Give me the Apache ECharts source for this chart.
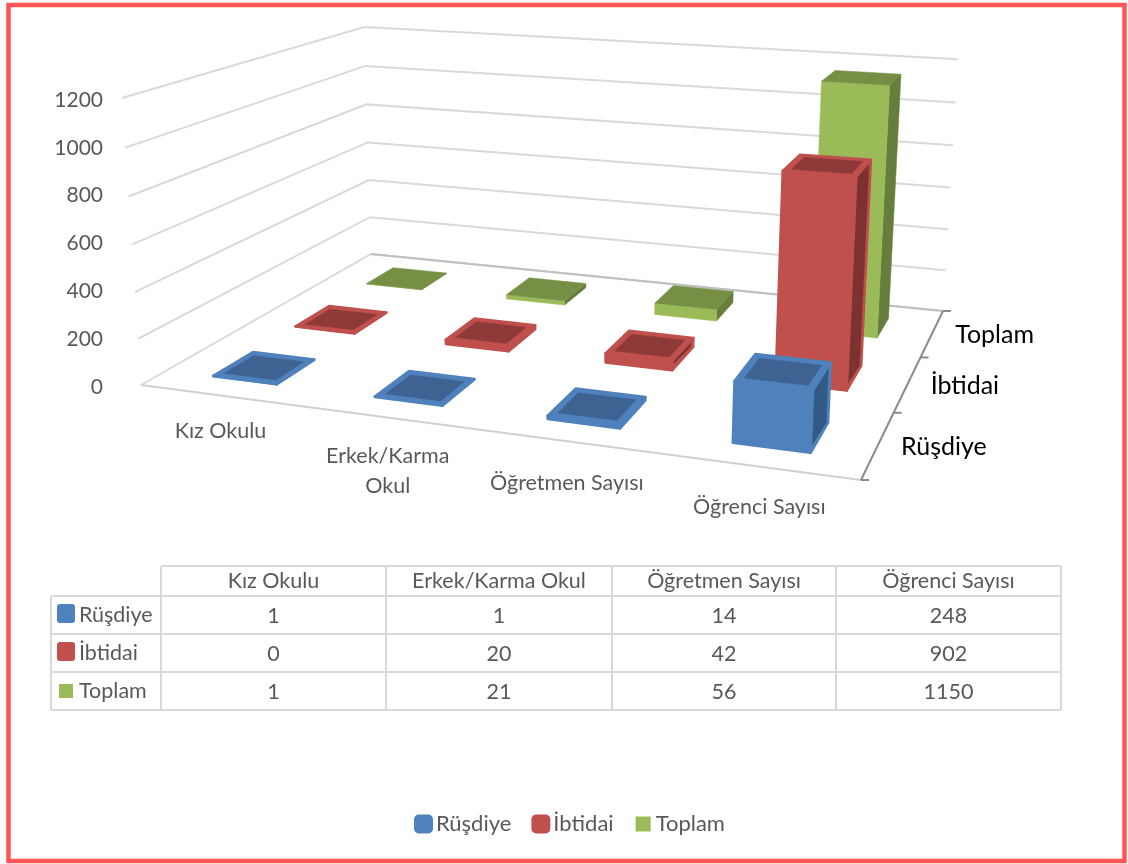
<!DOCTYPE html>
<html>
<head>
<meta charset="utf-8">
<style>
  html, body { margin: 0; padding: 0; background: #fff; }
  #chart { width: 1128px; height: 864px; }
</style>
<script src="https://cdn.jsdelivr.net/npm/echarts@6/dist/echarts.min.js"></script>
</head>
<body>
<div id="chart"></div>
<script>
const categories = ['Kız Okulu', 'Erkek/Karma Okul', 'Öğretmen Sayısı', 'Öğrenci Sayısı']
const rusdiye = [1, 1, 14, 248]
const ibtidai = [0, 20, 42, 902]
const toplam = [1, 21, 56, 1150]
const yTicks = [0, 200, 400, 600, 800, 1000, 1200]
const seriesNames = ['Rüşdiye', 'İbtidai', 'Toplam']

const FONT = 'Lato, "Noto Sans", sans-serif'
const TEXT = '#595959'
const GRID_TOP = 100
const GRID_H = 287

// perspective of the floor and walls, from the corners on the picture
const A = [141, 385], D = [861, 480], C = [943, 311], B = [371, 254]
const cam = (function () {
  const sx = A[0] - D[0] + C[0] - B[0]
  const sy = A[1] - D[1] + C[1] - B[1]
  const dx1 = D[0] - C[0], dx2 = B[0] - C[0]
  const dy1 = D[1] - C[1], dy2 = B[1] - C[1]
  const det = dx1 * dy2 - dx2 * dy1
  const g = (sx * dy2 - dx2 * sy) / det
  const h = (dx1 * sy - sx * dy1) / det
  const wC = 1 + g + h
  // top of the walls: (122,98) front left, (958,57) back right
  const pw = (122 - A[0] - (958 - C[0]) * wC) / (958 - 122)
  return {
    a: D[0] - A[0] + g * D[0], b: B[0] - A[0] + h * B[0], c: A[0],
    d: D[1] - A[1] + g * D[1], e: B[1] - A[1] + h * B[1], f: A[1],
    g, h, pw,
    px: 122 - A[0] + 122 * pw,
    py: 98 - A[1] + 98 * pw
  }
})()

function project(u, v, z) {
  const w = cam.g * u + cam.h * v + 1 + cam.pw * z
  return [
    (cam.a * u + cam.b * v + cam.c + cam.px * z) / w,
    (cam.d * u + cam.e * v + cam.f + cam.py * z) / w
  ]
}

function zOf(params, api, value) {
  const sys = params.coordSys
  return (sys.y + sys.height - api.coord([0, value])[1]) / sys.height
}

function line(points, color, width) {
  return {
    type: 'polyline',
    shape: { points },
    style: { stroke: color, lineWidth: width, fill: null },
    silent: true
  }
}

function poly(points, fill, stroke) {
  return {
    type: 'polygon',
    shape: { points },
    style: stroke
      ? { fill, stroke, lineWidth: 2.5, lineJoin: 'round' }
      : { fill, stroke: fill, lineWidth: 0.5 },
    silent: true
  }
}

function renderWall(params, api) {
  const z = zOf(params, api, api.value(1))
  const items = [line([project(0, 0, z), project(0, 1, z), project(1, 1, z)], '#d9d9d9', 2)]
  if (z === 0) {
    items.push(line([project(0, 1, 0), project(1, 1, 0)], '#bfbfbf', 2))
    items.push(line([project(0, 0, 0), project(1, 0, 0)], '#d0d0d0', 2))
    items.push(line([project(1, 0, 0), project(1, 1, 0)], '#8c8c8c', 2))
    for (let i = 0; i <= seriesNames.length; i++) {
      const p = project(1, i / seriesNames.length, 0)
      items.push(line([p, [p[0] + 8, p[1]]], '#8c8c8c', 2))
    }
  }
  return { type: 'group', children: items }
}

function barRenderer(depth, colors) {
  const BAR_U = 0.4
  const BAR_V = colors.bevel ? 0.46 : 0.43
  const IU = 0.009
  const IV = 0.02
  return function (params, api) {
    const sys = params.coordSys
    const center = (api.coord([api.value(0), 0])[0] - sys.x) / sys.width
    const band = api.size([1, 0])[0] / sys.width
    const u0 = center - band * BAR_U / 2
    const u1 = center + band * BAR_U / 2
    const v0 = (depth + 0.5 - BAR_V / 2) / seriesNames.length
    const v1 = (depth + 0.5 + BAR_V / 2) / seriesNames.length
    const z = Math.max(zOf(params, api, api.value(1)), 0.0015)
    const stroke = colors.bevel ? colors.main : null

    const right = [project(u1, v0, 0), project(u1, v1, 0), project(u1, v1, z), project(u1, v0, z)]
    const front = [project(u0, v0, 0), project(u1, v0, 0), project(u1, v0, z), project(u0, v0, z)]
    const top = [project(u0, v0, z), project(u1, v0, z), project(u1, v1, z), project(u0, v1, z)]
    const items = []

    if (colors.bevel) {
      items.push(poly(right, colors.main, stroke))
      if (z > 0.02) {
        const zb = 0.012
        items.push(poly([
          project(u1, v0 + 0.005, zb + 0.008), project(u1, v1 - IV, zb),
          project(u1, v1 - IV, z - 0.004), project(u1, v0 + 0.005, z - 0.004)
        ], colors.side))
      }
      items.push(poly(front, colors.main, stroke))
      items.push(poly(top, colors.main, stroke))
      items.push(poly([
        project(u0 + IU, v0 + IV, z), project(u1 - IU, v0 + IV, z),
        project(u1 - IU, v1 - IV, z), project(u0 + IU, v1 - IV, z)
      ], colors.top))
    } else {
      items.push(poly(right, colors.side))
      items.push(poly(front, colors.main))
      items.push(poly(top, colors.top))
    }
    return { type: 'group', children: items }
  }
}

function renderCategoryLabel(params, api) {
  const sys = params.coordSys
  const idx = api.value(0)
  const center = (api.coord([idx, 0])[0] - sys.x) / sys.width
  const p = project(center, 0, 0)
  return {
    type: 'text',
    silent: true,
    style: {
      text: categories[idx].replace('/Karma ', '/Karma\n'),
      x: p[0],
      y: p[1] + [36, 54, 42, 40][idx],
      fill: TEXT,
      font: '21.5px ' + FONT,
      align: 'center',
      verticalAlign: 'middle',
      lineHeight: 30
    }
  }
}

function renderDepthLabel(params, api) {
  const idx = api.value(1)
  const p = project(1, (idx + 0.5) / seriesNames.length, 0)
  return {
    type: 'text',
    silent: true,
    style: {
      text: seriesNames[idx],
      x: p[0] + 23,
      y: p[1] + 2,
      fill: '#000',
      font: '25px ' + FONT,
      align: 'left',
      verticalAlign: 'middle'
    }
  }
}

function buildTable() {
  const xs = [161, 386, 612, 836, 1061]
  const ys = [566, 596, 634, 672, 710]
  const left = 51
  const rows = [rusdiye, ibtidai, toplam]
  const swatch = [
    { x: 57, y: 604, width: 18, height: 19, r: 3, fill: '#4f81bd' },
    { x: 57, y: 642, width: 18, height: 19, r: 3, fill: '#c0504d' },
    { x: 59, y: 684, width: 14, height: 14, r: 0, fill: '#9bbb59' }
  ]
  const els = []
  const stroke = { stroke: '#d9d9d9', lineWidth: 2 }
  function seg(x1, y1, x2, y2) {
    els.push({ type: 'line', shape: { x1, y1, x2, y2 }, style: stroke, silent: true })
  }
  function label(text, x, y, align) {
    els.push({
      type: 'text', silent: true,
      style: { text, x, y, fill: TEXT, font: '21.5px ' + FONT, align, verticalAlign: 'middle' }
    })
  }
  seg(xs[0], ys[0], xs[4], ys[0])
  ys.slice(1).forEach(y => seg(left, y, xs[4], y))
  seg(left, ys[1], left, ys[4])
  xs.forEach(x => seg(x, ys[0], x, ys[4]))
  categories.forEach((c, i) => label(c, (xs[i] + xs[i + 1]) / 2, (ys[0] + ys[1]) / 2 + 0.5, 'center'))
  rows.forEach((row, r) => {
    const yc = (ys[r + 1] + ys[r + 2]) / 2
    const s = swatch[r]
    els.push({
      type: 'rect', silent: true,
      shape: { x: s.x, y: s.y, width: s.width, height: s.height, r: s.r },
      style: { fill: s.fill }
    })
    label(seriesNames[r], 79, yc, 'left')
    row.forEach((v, i) => label(String(v), (xs[i] + xs[i + 1]) / 2, yc + 1, 'center'))
  })
  els.push({
    type: 'rect', silent: true,
    shape: { x: 8.5, y: 5, width: 1116, height: 856 },
    style: { fill: null, stroke: '#ff5555', lineWidth: 4.5 }
  })
  return els
}

function barSeries(name, values, depth, colors) {
  return {
    name,
    type: 'custom',
    renderItem: barRenderer(depth, colors),
    data: values.map((v, i) => [i, v]),
    encode: { x: 0, y: 1 },
    itemStyle: { color: colors.main },
    silent: true
  }
}

const chart = echarts.init(document.getElementById('chart'))
chart.setOption({
  animation: false,
  backgroundColor: '#fff',
  textStyle: { fontFamily: FONT },
  grid: { left: 110, top: GRID_TOP, width: 800, height: GRID_H },
  xAxis: { type: 'category', data: categories, show: false },
  yAxis: {
    type: 'value',
    min: yTicks[0],
    max: yTicks[yTicks.length - 1],
    interval: 200,
    axisLine: { show: false },
    axisTick: { show: false },
    splitLine: { show: false },
    axisLabel: {
      color: TEXT,
      fontSize: 21,
      margin: 7,
      fontFamily: FONT,
      formatter: v => String(v)
    }
  },
  legend: {
    left: 414,
    top: 813,
    padding: 0,
    itemWidth: 19,
    itemHeight: 19,
    itemGap: 20,
    selectedMode: false,
    textStyle: { color: TEXT, fontSize: 22, fontFamily: FONT, padding: [0, 0, 0, -2] },
    data: [
      { name: seriesNames[0], icon: 'roundRect' },
      { name: seriesNames[1], icon: 'roundRect' },
      // empty corners keep the green key smaller than the other two
      { name: seriesNames[2], icon: 'path://M0 0L0 0M19 19L19 19M2 2L17 2L17 17L2 17Z' }
    ]
  },
  graphic: { elements: buildTable() },
  series: [
    {
      name: 'walls',
      type: 'custom',
      renderItem: renderWall,
      data: yTicks.map(t => [0, t]),
      encode: { x: 0, y: 1 },
      silent: true
    },
    {
      name: 'categoryLabels',
      type: 'custom',
      renderItem: renderCategoryLabel,
      data: categories.map((c, i) => [i, 0]),
      encode: { x: 0, y: 1 },
      silent: true
    },
    {
      name: 'depthLabels',
      type: 'custom',
      renderItem: renderDepthLabel,
      data: seriesNames.map((n, i) => [0, i]),
      encode: { x: 0, y: 1 },
      silent: true
    },
    barSeries(seriesNames[2], toplam, 2, { main: '#9bbb59', top: '#768f44', side: '#677d3b', bevel: false }),
    barSeries(seriesNames[1], ibtidai, 1, { main: '#c0504d', top: '#8e3a38', side: '#7d3130', bevel: true }),
    barSeries(seriesNames[0], rusdiye, 0, { main: '#4f81bd', top: '#3e6392', side: '#335a87', bevel: true })
  ]
})
</script>
</body>
</html>
